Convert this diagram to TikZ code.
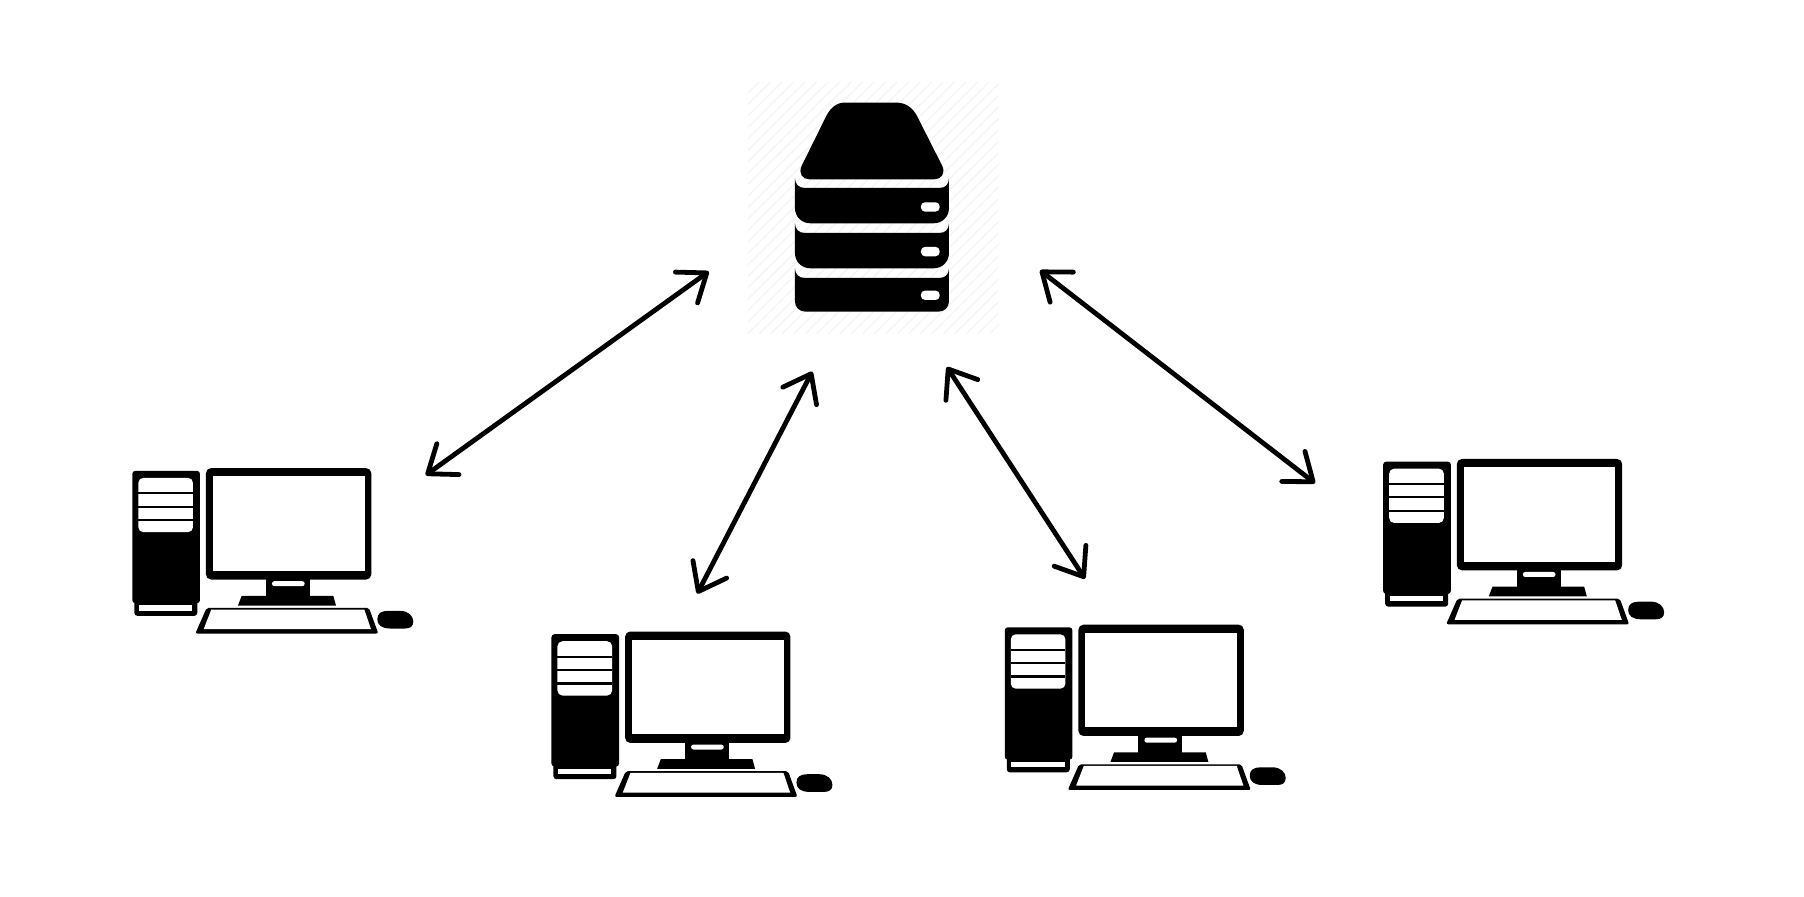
\documentclass[tikz,border=0pt]{standalone}
\usetikzlibrary{arrows.meta}
\definecolor{hatch}{HTML}{F3F3F3}
\tikzset{
  link/.style={line width=4.8pt,line cap=round,line join=round,{Straight Barb[length=25pt,width=38pt,line width=4.8pt,round]}-{Straight Barb[length=25pt,width=38pt,line width=4.8pt,round]}},
  zoomed/.style={x=0.3333pt,y=-0.3333pt},
}
\newcommand{\pcicon}[3]{%
\begin{scope}[shift={(#2,#3)},zoomed]
  \coordinate (#1) at (0,0);
  % tower
  \fill[black,rounded corners=3pt] (43,440) rectangle (232,498);
  \fill[white] (57,466) rectangle (217,482);
  \fill[black,rounded corners=3pt] (37,63) rectangle (240,460);
  \fill[white,rounded corners=5pt] (55,84) rectangle (219,247);
  \fill[black] (55,127) rectangle (219,133);
  \fill[black] (55,167) rectangle (219,173);
  \fill[black] (55,207) rectangle (219,214);
  % monitor
  \fill[black,rounded corners=5pt] (258,55) rectangle (754,389);
  \fill[white] (279,79) rectangle (734,363);
  \fill[black] (438,380) rectangle (570,440);
  \fill[black] (365,438) -- (640,438) -- (648,467) -- (354,467) -- cycle;
  \fill[white,rounded corners=2.4pt] (456,394) rectangle (554,409);
  % keyboard
  \fill[black,rounded corners=2pt] (260,474) -- (747,474) -- (775,551) -- (226,551) -- cycle;
  \fill[white] (274,479) -- (733,479) -- (753,538) -- (251,538) -- cycle;
  % mouse
  \fill[black] (772,508) .. controls (772,490) and (785,483) .. (805,483) -- (840,483)
    .. controls (865,483) and (880,498) .. (880,515) .. controls (880,530) and (870,536) .. (855,536)
    -- (810,536) .. controls (785,536) and (772,525) .. (772,508) -- cycle;
\end{scope}}
\begin{document}
\begin{tikzpicture}[x=1.1505pt,y=-1.1505pt]
\useasboundingbox (0,0) rectangle (1568,778.8);
\fill[white] (0,0) rectangle (1568,778.8);
% server hatch
\begin{scope}
  \clip (650,71) rectangle (868,290);
  \foreach \k in {0,...,46}
    \draw[hatch,line width=1.1pt] (650+\k*10-220,290) -- (650+\k*10,71);
\end{scope}
% server
\begin{scope}[shift={(625.5,52.1)},zoomed]
  \coordinate (server) at (0,0);
  \fill[black] (375,128) -- (530,128) .. controls (560,128) and (580,145) .. (592,168)
    -- (668,318) .. controls (678,340) and (665,358) .. (645,358)
    -- (268,358) .. controls (248,358) and (236,340) .. (246,318)
    -- (320,168) .. controls (332,145) and (350,128) .. (375,128) -- cycle;
  \foreach \t/\b/\r in {355/490/45, 490/625/45, 625/755/30}{
    \fill[black] (226,\t) .. controls (226,\t+18) and (238,\t+29) .. (255,\t+29)
      -- (660,\t+29) .. controls (677,\t+29) and (688,\t+18) .. (688,\t)
      -- (688,\b-\r) arc[start angle=0,end angle=-90,radius=\r*0.3333pt] -- (226+\r,\b)
      arc[start angle=270,end angle=180,radius=\r*0.3333pt] -- cycle;
  }
  \foreach \y in {441,575,706}
    \fill[white,rounded corners=4pt] (604,\y-14) rectangle (660,\y+14);
\end{scope}
% computers
\pcicon{pcA}{104.3}{391.0}
\pcicon{pcB}{468.6}{533.0}
\pcicon{pcC}{862.6}{527.0}
\pcicon{pcD}{1191.5}{383.0}
% connector ends
\coordinate (a1) at (370,413);
\coordinate (a2) at (616,236);
\coordinate (b1) at (606,516);
\coordinate (b2) at (706,323);
\coordinate (c1) at (943,503);
\coordinate (c2) at (823,319);
\coordinate (d1) at (1143,420);
\coordinate (d2) at (904,235);
\draw[link] (a1) -- (a2);
\draw[link] (b1) -- (b2);
\draw[link] (c1) -- (c2);
\draw[link] (d1) -- (d2);
\end{tikzpicture}
\end{document}
